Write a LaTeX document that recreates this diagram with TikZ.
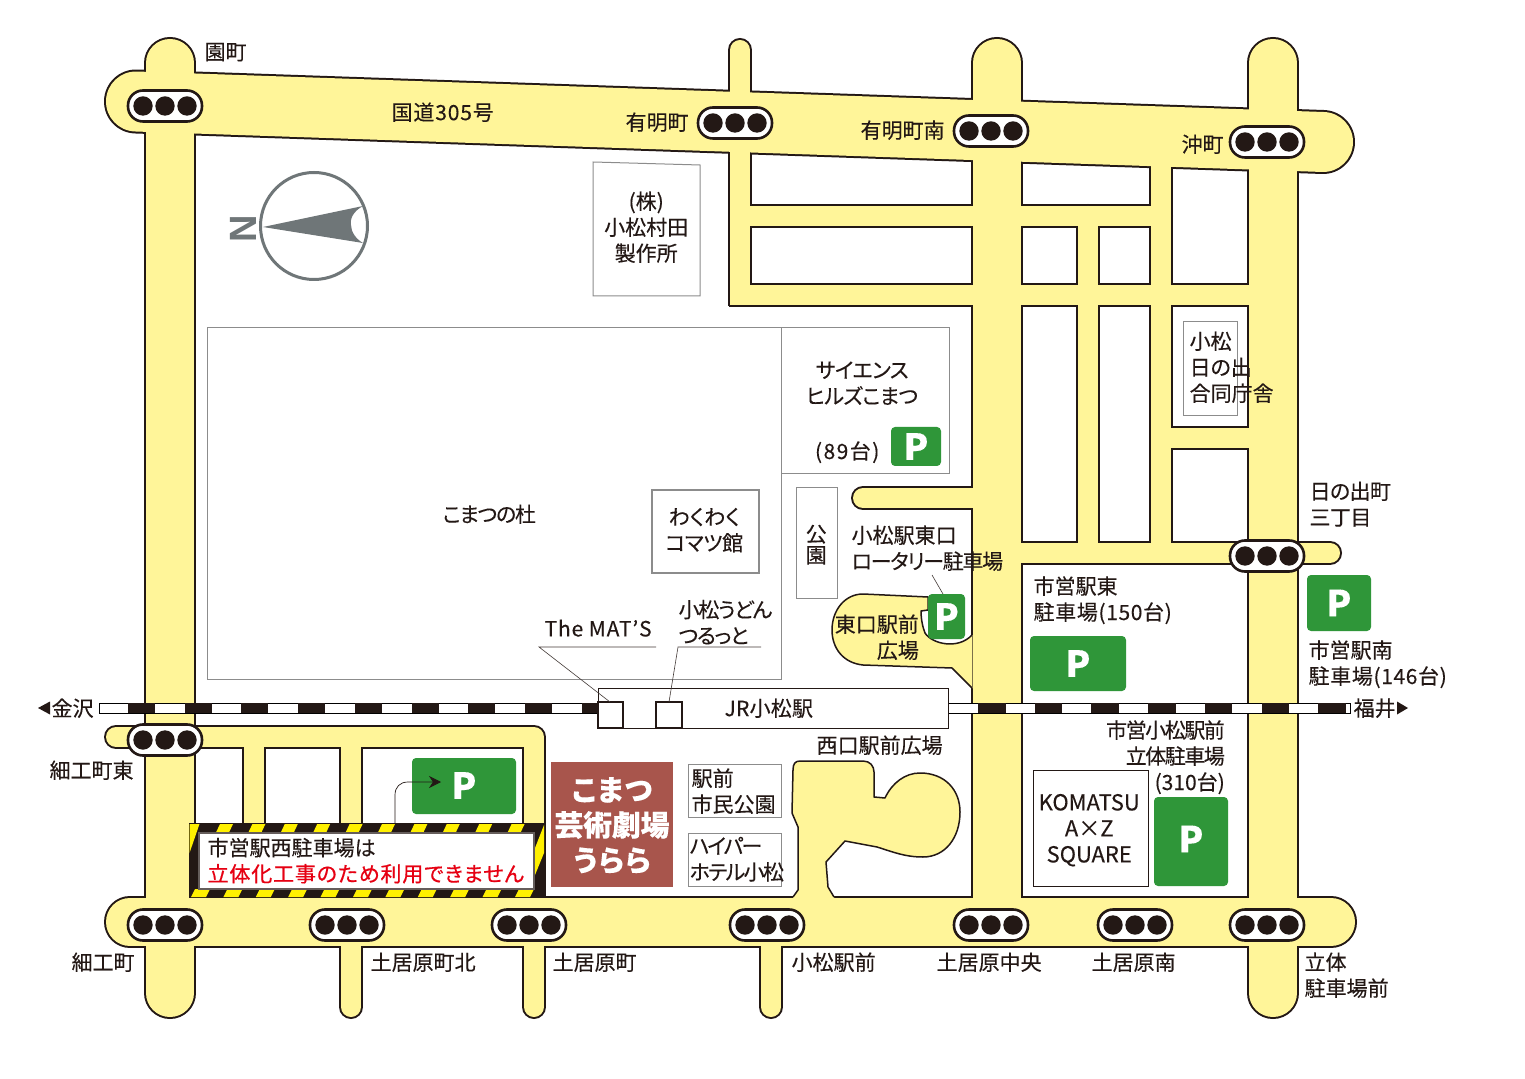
\documentclass[tikz,border=0pt]{standalone}
\usepackage{fontspec}
\setmainfont{Noto Sans CJK JP}[RawFeature=+palt,FakeBold=0.2]
\newfontfamily\latinsans{Liberation Sans}
\usetikzlibrary{arrows.meta}
\definecolor{roady}{HTML}{FFF599}
\definecolor{ink}{HTML}{231815}
\definecolor{pgreen}{HTML}{2F9639}
\definecolor{brick}{HTML}{A8554C}
\definecolor{compass}{HTML}{6F7678}
\definecolor{warnred}{HTML}{E60012}
\definecolor{warny}{HTML}{FFF000}
\definecolor{thin}{HTML}{8C8C8C}
\newcommand\ls[2]{{\addfontfeature{LetterSpace=#1}#2}}
\newcommand\RoadList{%
  \rd{50}{(170,63)--(170,993)}%
  \rd{50}{(997,63)--(997,922)}%
  \rd{50}{(1273,63)--(1273,993)}%
  \rd{62}{(136,101.5)--(1323,142)}%
  \rd{50}{(130,922)--(1331,922)}%
  \rd{22}{(740,50)--(740,295.5)--(997,295.5)}%
  \rd{22}{(740,216)--(1161,216)}%
  \rd{22}{(1161,120)--(1161,553)}%
  \rd{22}{(1088,216)--(1088,553)}%
  \rd{22}{(997,295.5)--(1273,295.5)}%
  \rd{22}{(1161,438)--(1273,438)}%
  \rd{22}{(997,553)--(1330,553)}%
  \rd{22}{(863,498)--(997,498)}%
  \rd{22}{(351,922)--(351,1007)}%
  \rd{22}{(534,922)--(534,1007)}%
  \rd{22}{(771,922)--(771,1007)}%
  \rd{22}{(254,737)--(254,830)}%
  \rd{22}{(351,737)--(351,830)}%
  \rd{22}{(116,737)--(534,737)--(534,922)}%
}
\tikzset{
  lab/.style={inner sep=0pt,text=ink,font=\fontsize{10.5}{13}\selectfont,align=left,yshift=-0.1pt,xshift=-0.4pt},
  labc/.style={lab,align=center},
  labr/.style={lab,align=right},
  thinbox/.style={draw=thin,line width=0.5pt},
  darkbox/.style={draw=ink,line width=0.45pt,fill=white},
  pbox/.style={fill=pgreen,rounded corners=2pt,inner sep=0pt,text=white,font=\fontsize{18}{18}\selectfont\bfseries},
  capsule/.style={draw=ink,fill=white,line width=1.3pt,rounded corners=7.5pt},
  lamp/.style={fill=ink},
  leader/.style={draw=ink!85,line width=0.3pt},
  plaza/.style={draw=ink,line width=0.75pt,line join=round},
}
\begin{document}
\begin{tikzpicture}[x=0.5pt,y=-0.5pt]
\useasboundingbox (0,0) rectangle (1525,1079);
\fill[white] (0,0) rectangle (1525,1079);

% buildings behind the roads
\draw[thinbox] (207,328) rectangle (781,679);
\draw[thinbox] (781,328) rectangle (949,474);
\draw[thinbox] (593,162) -- (700,165) -- (700,296) -- (593,296) -- cycle;
\draw[thinbox,line width=0.8pt] (652,490) rectangle (759,573);
\draw[thinbox] (796,488) rectangle (837,598);

% roads: dark pass, then yellow pass
\def\rd#1#2{\draw[ink,line width={(#1+2)*0.5pt},line cap=round,line join=round] #2;}
\RoadList
\def\rd#1#2{\draw[roady,line width={(#1-2)*0.5pt},line cap=round,line join=round] #2;}
\RoadList
\draw[ink,line width=1pt,line cap=butt] (729,295) -- (729,306.5);
\draw[ink,line width=1pt,line cap=butt] (728.5,306) -- (740,306);
\fill[roady] (730,295) rectangle (740,305);

% east plaza
\fill[roady] (975,688) -- (972,688) -- (952,668) -- (863,665)
  .. controls (843,663) and (832,648) .. (832,630)
  .. controls (832,610) and (845,594) .. (863,594)
  -- (928,597) -- (928,610) -- (921,611)
  .. controls (921,620) and (923,628) .. (925,633)
  .. controls (932,644) and (958,650) .. (972,635) -- (975,635) -- cycle;
\draw[plaza] (972,688) -- (952,668) -- (863,665)
  .. controls (843,663) and (832,648) .. (832,630)
  .. controls (832,610) and (845,594) .. (863,594)
  -- (928,597) -- (928,610) -- (921,611)
  .. controls (921,620) and (923,628) .. (925,633)
  .. controls (932,644) and (958,650) .. (972,635);
\draw[ink!60!roady,line width=0.25pt] (972,635) -- (972,688);

% west plaza
\fill[roady] (793,900) -- (793,897) -- (798,890) -- (798,827) -- (792,813) -- (793,770)
  .. controls (793,764) and (795,761) .. (800,761) -- (863,761)
  .. controls (870,761) and (874,766) .. (874,772) -- (874,797) -- (885,798)
  .. controls (892,783) and (905,773) .. (920,773)
  .. controls (945,773) and (960,790) .. (960,812)
  .. controls (960,838) and (945,857) .. (923,857)
  .. controls (905,857) and (893,852) .. (877,847)
  -- (845,841) -- (826,862) -- (828,887) -- (834,897) -- (834,900) -- cycle;
\draw[plaza] (793,897) -- (798,890) -- (798,827) -- (792,813) -- (793,770)
  .. controls (793,764) and (795,761) .. (800,761) -- (863,761)
  .. controls (870,761) and (874,766) .. (874,772) -- (874,797) -- (885,798)
  .. controls (892,783) and (905,773) .. (920,773)
  .. controls (945,773) and (960,790) .. (960,812)
  .. controls (960,838) and (945,857) .. (923,857)
  .. controls (905,857) and (893,852) .. (877,847)
  -- (845,841) -- (826,862) -- (828,887) -- (834,897);

% boxes on the white blocks
\draw[thinbox] (1183,322) rectangle (1237,416);
\draw[darkbox] (1033,770) rectangle (1148,886);
\draw[thinbox,fill=white] (688,764) rectangle (781,817);
\draw[thinbox,fill=white] (688,833) rectangle (781,886);

% railway
\draw[thin,fill=white,line width=0.5pt] (99,703) rectangle (598,713);
\draw[thin,fill=white,line width=0.5pt] (948,703) rectangle (1350,713);
\foreach \s in {128,184.7,241.4,298.1,354.8,411.5,468.2,524.9,581.6}
  \fill[ink] (\s,703) rectangle ({\s+27},713);
\foreach \s in {978,1034.7,1091.4,1148.1,1204.8,1261.5,1318.2}
  \fill[ink] (\s,703) rectangle ({\s+27.5},713);
\fill[ink] (50,701.5) -- (50,714.5) -- (38,708) -- cycle;
\fill[ink] (1397,701.5) -- (1397,714.5) -- (1408,708) -- cycle;

% station
\draw[ink,fill=white,line width=0.5pt] (598,688) rectangle (948,728);
\draw[darkbox,line width=0.7pt] (598,702) rectangle (623,728);
\draw[darkbox,line width=0.7pt] (656,702) rectangle (682,728);

% leaders
\coordinate (matsA) at (656,647);
\coordinate (matsB) at (539,647);
\coordinate (matsC) at (610,702);
\coordinate (udonA) at (761,647);
\coordinate (udonB) at (678,647);
\coordinate (udonC) at (669,702);
\coordinate (rotA) at (932,575);
\coordinate (rotB) at (943,594);
\draw[leader] (matsA) -- (matsB) -- (matsC);
\draw[leader] (udonA) -- (udonB) -- (udonC);
\draw[leader] (rotA) -- (rotB);

% traffic lights
\foreach \a/\b in {165/106,735/123,991/131,1267/142,1267/556,165/740,165/925,347/925,529/925,767/925,991/925,1135/925,1267/925}{
  \begin{scope}[shift={(\a,\b)}]
    \draw[capsule] (-37,-15.5) rectangle (37,15.5);
    \fill[lamp] (-22,0) circle[radius=9.7];
    \fill[lamp] (0,0) circle[radius=9.7];
    \fill[lamp] (22,0) circle[radius=9.7];
  \end{scope}
}

% compass
\draw[compass,line width=1.5pt] (314,226) circle[radius=53.5];
\fill[compass] (263,227) -- (363,206) .. controls (352,212) and (350,220) .. (351,225)
  .. controls (351,232) and (356,239) .. (363,243) -- cycle;
\node[rotate=90,inner sep=0pt,text=compass,font=\latinsans\fontsize{19}{19}\selectfont\bfseries] (north) at (243.5,229) {N};

% warning band
\fill[ink] (189,823) rectangle (545,898);
\foreach \k in {0,...,9}
  \fill[warny] ({216+32.4*\k},832.5) -- ({229+32.4*\k},832.5) -- ({233+32.4*\k},824) -- ({220+32.4*\k},824) -- cycle;
\foreach \k in {0,...,10}
  \fill[warny] ({195+32.4*\k},889) -- ({210+32.4*\k},889) -- ({206+32.4*\k},897) -- ({191+32.4*\k},897) -- cycle;
\fill[warny] (189.5,824) -- (199.5,824) -- (189.5,853) -- cycle;
\fill[warny] (544,825) -- (544,853) -- (535,875) -- (535,848) -- cycle;
\draw[darkbox,draw=ink!70,line width=0.6pt] (199,833) rectangle (534,889);

% parking
\node[pbox,minimum width=25pt,minimum height=19.5pt] (pSci) at (916,446.5) {P};
\node[pbox,minimum width=18.5pt,minimum height=22.5pt] (pRot) at (946.5,616.5) {P};
\node[pbox,minimum width=48pt,minimum height=27.5pt] (pEast) at (1078,663.5) {P};
\node[pbox,minimum width=32pt,minimum height=28pt] (pSouth) at (1339,603) {P};
\node[pbox,minimum width=37pt,minimum height=44.5pt] (pAZ) at (1191,841.5) {\raisebox{2.5pt}{P}};
\node[pbox,minimum width=52pt,minimum height=28pt] (pWest) at (464,786) {\raisebox{0.5pt}{P}};
\coordinate (arrS) at (395,823);
\coordinate (arrE) at (441,782);
\draw[ink,line width=0.35pt,-{Stealth[length=6pt,width=6pt]}] (arrS) -- (395,795)
  .. controls (395,787) and (400,782) .. (408,782) -- (arrE);

% theatre
\node[fill=brick,minimum width=61pt,minimum height=62.5pt,inner sep=0pt] (uraraBox) at (612,824.5) {};
\node[inner sep=0pt,text=white,align=center,font=\fontsize{14.5}{17.6}\selectfont\bfseries] (uraraText) at (612,825.5) {\ls{4}{こまつ}\\\ls{-1}{芸術劇場}\\\ls{4}{うらら}};

% labels
\node[lab,anchor=west] (t1) at (205,52) {園町};
\node[lab,anchor=west] (t2) at (392,112) {\ls{4}{国道305号}};
\node[lab,anchor=west] (t3) at (626,122) {有明町};
\node[lab,anchor=west] (t4) at (861,130) {有明町南};
\node[lab,anchor=west] (t5) at (1182,144) {沖町};
\node[labc] (t6) at (647,227) {(株)\\小松村田\\製作所};
\node[labc] (t7) at (863,383) {\ls{-3}{サイエンス}\\\ls{-3}{ヒルズこまつ}};
\node[labc] (t8) at (848,452) {\ls{7}{(89台)}};
\node[lab,anchor=west] (t9) at (443,514) {\ls{-6}{こまつの杜}};
\node[labc] (t10) at (705,530) {わくわく\\\ls{-2}{コマツ館}};
\node[labc,font=\fontsize{10.5}{10.5}\selectfont] (t11) at (817,544.5) {公\\園};
\node[lab,anchor=west] (t12) at (852,548) {小松駅東口\\\ls{-6}{ロータリー駐車場}};
\node[lab,align=right,anchor=east] (t13) at (920,637) {東口駅前\\広場};
\node[lab,anchor=west] (t14) at (545,628) {\ls{4}{The MAT’S}};
\node[lab,anchor=west] (t15) at (679,622) {\ls{-6}{小松うどん}\\\ls{-6}{つるっと}};
\node[lab,anchor=west] (t16) at (725,708) {\ls{1}{JR小松駅}};
\node[lab,anchor=west] (t17) at (817,745) {西口駅前広場};
\node[lab,anchor=west] (t18) at (692,791) {駅前\\市民公園};
\node[lab,anchor=west] (t19) at (690,859) {\ls{-9}{ハイパー}\\\ls{-8}{ホテル小松}};
\node[lab,anchor=west] (t20) at (52,708) {金沢};
\node[lab,anchor=west] (t21) at (1354,708) {福井};
\node[lab,anchor=west] (t22) at (50,770) {細工町東};
\node[lab,anchor=west] (t23) at (72,962) {細工町};
\node[lab,anchor=west] (t24) at (371,962) {土居原町北};
\node[lab,anchor=west] (t25) at (553,962) {土居原町};
\node[lab,anchor=west] (t26) at (792,962) {小松駅前};
\node[lab,anchor=west] (t27) at (937,962) {土居原中央};
\node[lab,anchor=west] (t28) at (1092,962) {土居原南};
\node[lab,anchor=west] (t29) at (1305,975) {立体\\駐車場前};
\node[lab,anchor=west] (t30) at (1310,504) {\ls{-3}{日の出町}\\\ls{-3}{三丁目}};
\node[lab,anchor=west] (t31) at (1309,664) {市営駅南\\\ls{3}{駐車場(146台)}};
\node[lab,anchor=west] (t32) at (1034,600) {市営駅東\\\ls{3}{駐車場(150台)}};
\node[labr,anchor=east] (t33) at (1226,757) {\ls{-7}{市営小松駅前}\\\ls{-7}{立体駐車場}\\(310台)};
\node[labc,font=\fontsize{11}{13}\selectfont] (t34) at (1090,830) {KOMATSU\\A×Z\\SQUARE};
\node[lab,anchor=west] (t35) at (1190,367) {小松\\日の出\\合同庁舎};
\node[lab,anchor=west] (t36) at (208,860.5) {市営駅西駐車場は\\\textcolor{warnred}{\addfontfeature{FakeBold=0.6,LetterSpace=4}立体化工事のため利用できません}};
\end{tikzpicture}
\end{document}
